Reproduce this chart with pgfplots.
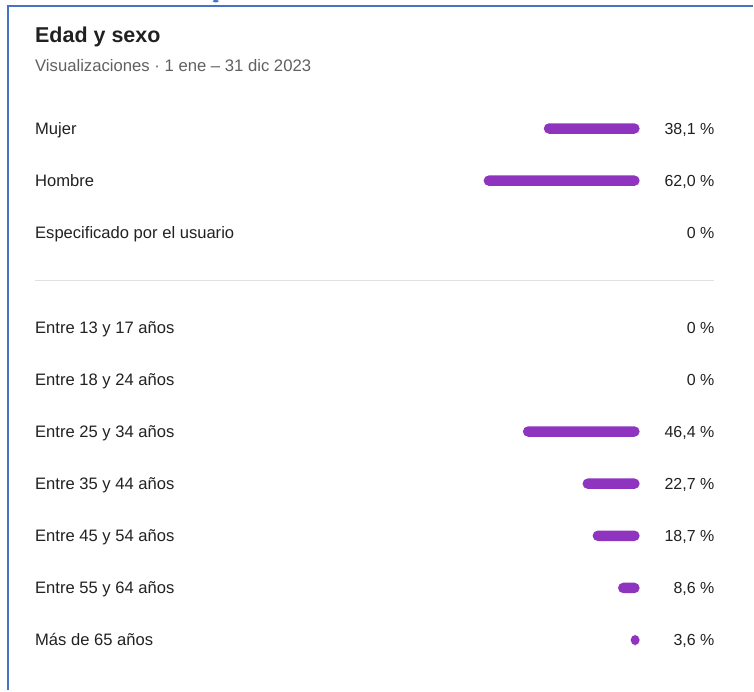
\documentclass[border=0pt]{standalone}
\usepackage{pgfplots}
\pgfplotsset{compat=1.18}
\usepackage{pgfplotstable}
\usepackage{fontspec}
\setmainfont{Liberation Sans}

\definecolor{barpurple}{RGB}{142,52,190}
\definecolor{frameblue}{RGB}{68,114,196}
\definecolor{txt}{RGB}{33,33,33}
\definecolor{subtxt}{RGB}{96,96,96}
\definecolor{sep}{RGB}{224,224,224}

% y = row centre (px from top), value = share in %
\pgfplotstableread{
y      value
127.5  38.1
179.7  62.0
231.9  0
326.5  0
378.7  0
430.9  46.4
483.1  22.7
535.3  18.7
587.5  8.6
639.7  3.6
}\shares

\begin{document}
\begin{tikzpicture}

\begin{axis}[
	at={(0pt,0pt)}, anchor=south west,
	scale only axis,
	width=754pt, height=690pt,
	x dir=reverse,
	xmin=-45.04, xmax=254.166,
	y dir=reverse,
	ymin=0, ymax=690,
	hide axis,
	clip=false,
	]
	\addplot [
	xbar,
	bar width=10.5pt,
	fill=barpurple,
	draw=none,
	rounded corners=5.25pt,
	restrict x to domain=0.01:100,
	] table [x=value, y=y] {\shares};
\end{axis}

\begin{scope}[x=1pt, y=-1pt, shift={(0pt,690pt)}]
	\path (0,0) rectangle (754,690);
	\draw[frameblue, line width=2pt] (8,690) -- (8,5) -- (754,5);
	\fill[frameblue] (216,0) ellipse (3 and 1.2);

	\node[anchor=base west, inner sep=0, text=txt, font=\fontsize{21.5}{24}\selectfont\bfseries] at (35,41) {Edad y sexo};
	\node[anchor=base west, inner sep=0, text=subtxt, font=\fontsize{16.7}{19}\selectfont] at (35,70.7) {Visualizaciones · 1 ene – 31 dic 2023};

	\draw[sep, line width=1pt] (35,279.3) -- (715,279.3);

	\begin{scope}[every node/.style={inner sep=0, text=txt, font=\fontsize{16.6}{19}\selectfont}]
	\node[anchor=base west] at (35,133.3) {Mujer};
	\node[anchor=base west] at (35,185.5) {Hombre};
	\node[anchor=base west] at (35,237.7) {Especificado por el usuario};
	\node[anchor=base west] at (35,332.3) {Entre 13 y 17 años};
	\node[anchor=base west] at (35,384.5) {Entre 18 y 24 años};
	\node[anchor=base west] at (35,436.7) {Entre 25 y 34 años};
	\node[anchor=base west] at (35,488.9) {Entre 35 y 44 años};
	\node[anchor=base west] at (35,541.1) {Entre 45 y 54 años};
	\node[anchor=base west] at (35,593.3) {Entre 55 y 64 años};
	\node[anchor=base west] at (35,645.5) {Más de 65 años};
	\end{scope}

	\begin{scope}[every node/.style={inner sep=0, text=txt, font=\fontsize{16}{19}\selectfont}]
	\node[anchor=base east] at (715.5,133.3) {38,1 \%};
	\node[anchor=base east] at (715.5,185.5) {62,0 \%};
	\node[anchor=base east] at (715.5,237.7) {0 \%};
	\node[anchor=base east] at (715.5,332.3) {0 \%};
	\node[anchor=base east] at (715.5,384.5) {0 \%};
	\node[anchor=base east] at (715.5,436.7) {46,4 \%};
	\node[anchor=base east] at (715.5,488.9) {22,7 \%};
	\node[anchor=base east] at (715.5,541.1) {18,7 \%};
	\node[anchor=base east] at (715.5,593.3) {8,6 \%};
	\node[anchor=base east] at (715.5,645.5) {3,6 \%};
	\end{scope}
\end{scope}

\end{tikzpicture}
\end{document}
